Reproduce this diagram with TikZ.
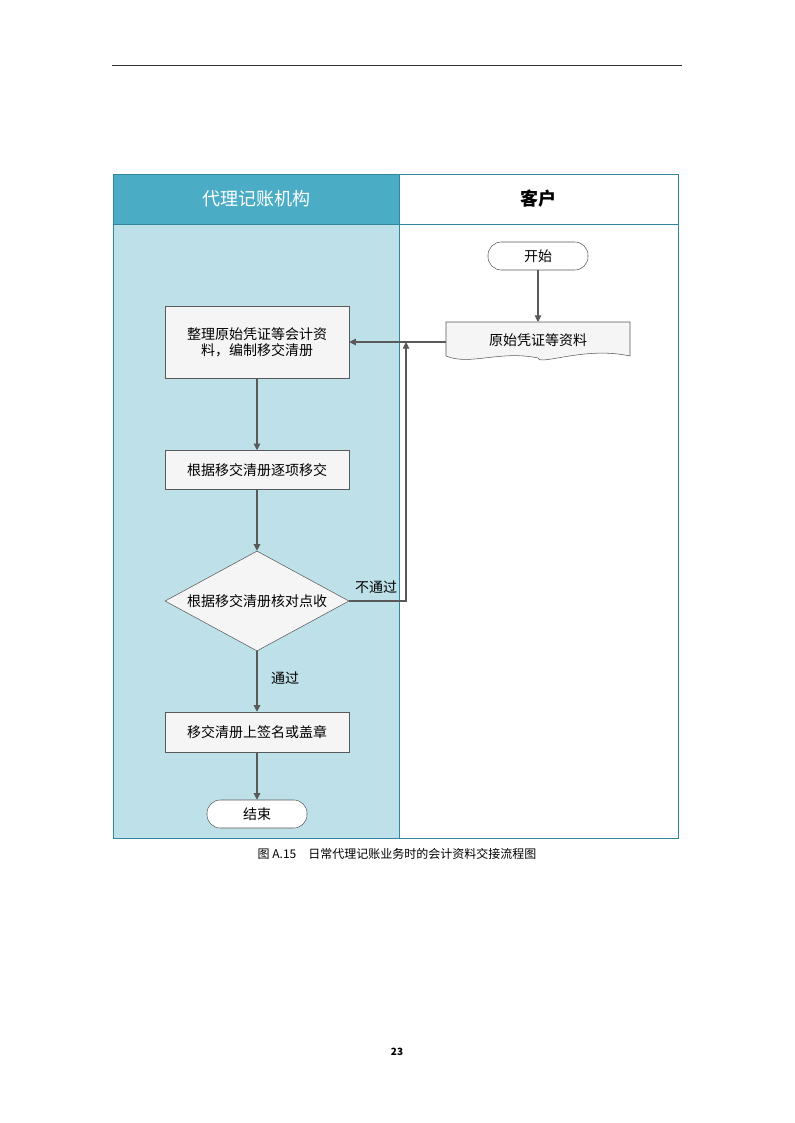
\documentclass[tikz,border=0pt]{standalone}
\usepackage{fontspec}
\setmainfont{Noto Sans CJK SC}
\usetikzlibrary{shapes.geometric,arrows.meta}
\definecolor{laneHead}{HTML}{4BACC6}
\definecolor{laneBody}{HTML}{BEE0E8}
\definecolor{laneLine}{HTML}{31859C}
\definecolor{flowLine}{HTML}{595959}
\begin{document}
\begin{tikzpicture}[x=0.75pt,y=-0.75pt,font=\fontsize{10.5}{12}\selectfont]
    \tikzstyle{box_style} = [draw=flowLine, fill=gray!8, minimum width=184*0.75pt, align=center]
    \tikzstyle{term_style} = [draw=flowLine, fill=white, rounded corners=10pt, minimum width=100*0.75pt, minimum height=28*0.75pt]
    \tikzstyle{dec_style} = [draw=flowLine, fill=gray!8, diamond, minimum width=184*0.75pt, minimum height=100*0.75pt, aspect=1.84, inner sep=0pt]
    \tikzstyle{arrow_style} = [-{Triangle[length=5pt,width=5pt]}, flowLine, line width=0.8pt]

    \useasboundingbox (0,0) rectangle (794,1123);
    \draw[black!80, line width=0.6pt] (112,65) -- (682,65);

    % lanes
    \fill[laneBody] (113,224) rectangle (399,838);
    \fill[laneHead] (113,174) rectangle (399,224);
    \draw[laneLine, line width=0.7pt] (113,174) rectangle (678,838);
    \draw[laneLine, line width=0.7pt] (399,174) -- (399,838);
    \draw[laneLine, line width=0.7pt] (113,224) -- (678,224);
    \node[white, font=\fontsize{13.5}{15}\selectfont] (h1) at (256,199) {代理记账机构};
    \node[font=\fontsize{13.5}{15}\selectfont\bfseries] (h2) at (538,199) {客户};

    % nodes
    \node[term_style] (start) at (538,256) {开始};
    \draw[flowLine, fill=gray!8] (446,322) -- (630,322) -- (630,356)
        .. controls (585,346) and (540,366) .. (538,358)
        .. controls (500,350) and (470,366) .. (446,356) -- cycle;
    \coordinate (docb) at (538,346);
    \node (doc) at (538,340) {原始凭证等资料};
    \node[box_style, minimum height=72*0.75pt] (b1) at (257,342) {整理原始凭证等会计资\\料，编制移交清册};
    \node[box_style, minimum height=39*0.75pt] (b2) at (257,470) {根据移交清册逐项移交};
    \node[dec_style] (d1) at (257,601) {};
    \node (d1t) at (257,601) {根据移交清册核对点收};
    \node[box_style, minimum height=40*0.75pt] (b3) at (257,732) {移交清册上签名或盖章};
    \node[term_style] (end) at (257,814) {结束};
    \coordinate (back) at (406,342);
    \coordinate (docl) at (446,342);

    % connectors
    \draw[arrow_style] (start) -- (538,322);
    \draw[arrow_style] (docl) -- (b1.east);
    \draw[arrow_style] (b1) -- (b2);
    \draw[arrow_style] (b2) -- (d1);
    \draw[arrow_style] (d1.east) -- (406,601) -- (back);
    \draw[arrow_style] (d1) -- (b3);
    \draw[arrow_style] (b3) -- (end);
    \node (no) at (376,587) {不通过};
    \node (yes) at (285,678) {通过};

    \node[font=\fontsize{9}{10}\selectfont] (cap) at (397,854) {图 A.15\quad 日常代理记账业务时的会计资料交接流程图};
    \node[font=\fontsize{7.5}{9}\selectfont\bfseries] (pg) at (397,1052) {23};
\end{tikzpicture}
\end{document}
